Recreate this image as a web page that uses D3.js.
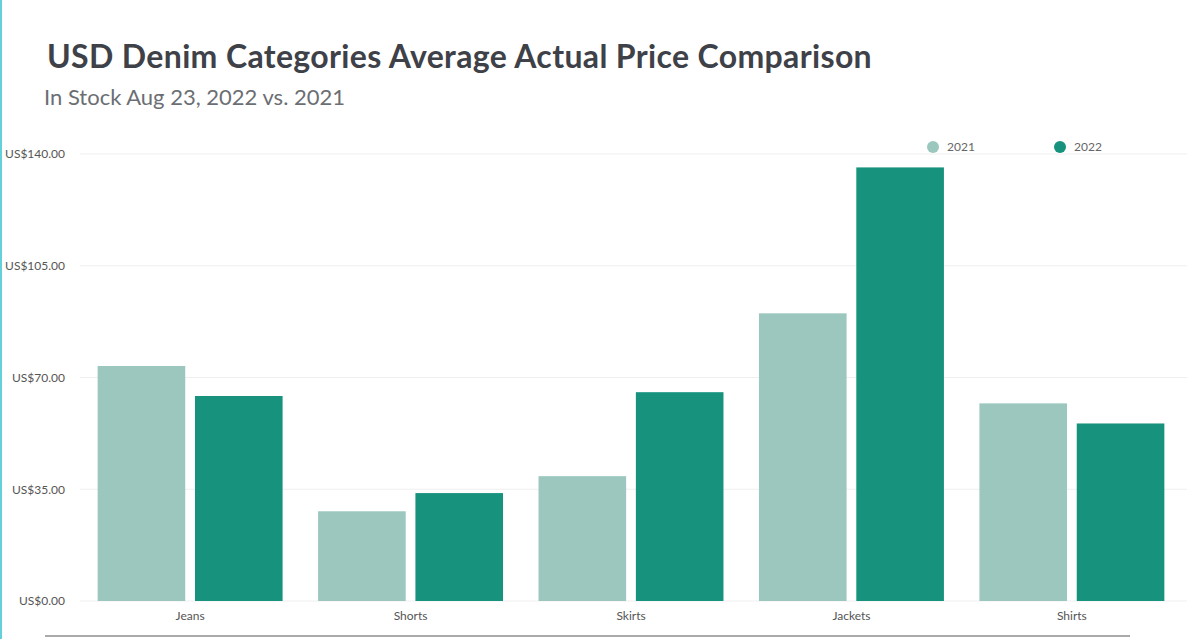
<!DOCTYPE html>
<html><head><meta charset="utf-8">
<script src="https://cdn.jsdelivr.net/npm/d3@7"></script>
<style>body{margin:0;background:#fff;overflow:hidden}svg{display:block}</style>
</head><body>
<svg id="chart" width="1187" height="639"></svg>
<script>
const categories = ["Jeans", "Shorts", "Skirts", "Jackets", "Shirts"];
const seriesNames = ["2021", "2022"];
const values2021 = [73.6, 28.1, 39.1, 90.1, 61.9];
const values2022 = [64.2, 33.8, 65.4, 135.8, 55.6];
const yTicks = [0, 35, 70, 105, 140];
const colors = ["#9cc7bf", "#16927d"];

const svg = d3.select("#chart");
const font = "Lato, 'Open Sans', sans-serif";

// left accent line
svg.append("rect").attr("x", 0).attr("y", 0).attr("width", 2).attr("height", 639).attr("fill", "#63d0da");

svg.append("text").attr("x", 47).attr("y", 68).attr("font-family", font).attr("font-weight", 700)
  .attr("font-size", 32).attr("letter-spacing", 0.35).attr("fill", "#3e4148")
  .text("USD Denim Categories Average Actual Price Comparison");
svg.append("text").attr("x", 44).attr("y", 105).attr("font-family", font)
  .attr("font-size", 22).attr("fill", "#6b6e73").text("In Stock Aug 23, 2022 vs. 2021");

const x0 = d3.scaleBand().domain(categories).range([80, 1182]).paddingInner(0.161).paddingOuter(0.08);
const x1 = d3.scaleBand().domain(seriesNames).range([0, x0.bandwidth()]).paddingInner(0.1);
const y = d3.scaleLinear().domain([0, 140]).range([601, 154]);

// grid
svg.append("g").selectAll("line").data(yTicks).join("line")
  .attr("x1", 80).attr("x2", 1187).attr("y1", d => y(d)).attr("y2", d => y(d))
  .attr("stroke", "#efefef").attr("stroke-width", 1);

// y axis
const yAxis = svg.append("g").attr("transform", "translate(68,0)")
  .call(d3.axisLeft(y).tickValues(yTicks).tickSize(0).tickFormat(d => "US$" + d3.format(".2f")(d)));
yAxis.select(".domain").remove();
yAxis.selectAll("text").attr("font-family", font).attr("font-size", 12).attr("fill", "#555");

// bars
const data = categories.map((c, i) => ({cat: c, vals: [values2021[i], values2022[i]]}));
const groups = svg.append("g").selectAll("g").data(data).join("g")
  .attr("transform", d => `translate(${x0(d.cat)},0)`);
groups.selectAll("rect").data(d => d.vals.map((v, j) => ({s: seriesNames[j], v, j}))).join("rect")
  .attr("x", d => x1(d.s)).attr("width", x1.bandwidth())
  .attr("y", d => y(d.v)).attr("height", d => y(0) - y(d.v)).attr("fill", d => colors[d.j]);

// x axis
const xAxis = svg.append("g").attr("transform", "translate(0,601)")
  .call(d3.axisBottom(x0).tickSize(0).tickPadding(10));
xAxis.select(".domain").remove();
xAxis.selectAll("text").attr("font-family", font).attr("font-size", 12).attr("fill", "#555");

// legend
const legX = [933, 1060];
const leg = svg.append("g").selectAll("g").data(seriesNames).join("g")
  .attr("transform", (d, i) => `translate(${legX[i]},147)`);
leg.append("circle").attr("r", 6).attr("fill", (d, i) => colors[i]);
leg.append("text").attr("x", 14).attr("dy", "0.35em").attr("font-family", font).attr("font-size", 12)
  .attr("fill", "#666").text(d => d);

// bottom rule
svg.append("line").attr("x1", 45).attr("x2", 1130).attr("y1", 636).attr("y2", 636)
  .attr("stroke", "#aaa").attr("stroke-width", 2);
</script>
</body></html>
